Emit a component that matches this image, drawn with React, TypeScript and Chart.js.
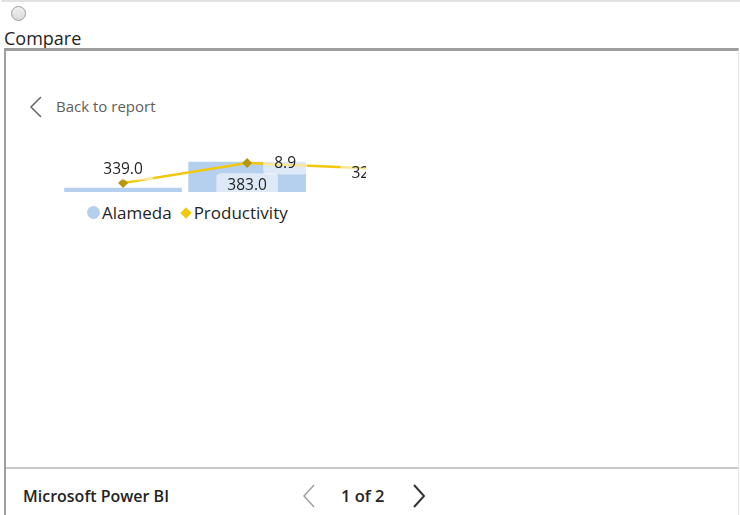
import React, { useEffect, useRef } from "react";
import { Chart, registerables } from "chart.js";

Chart.register(...registerables);

// ---- data ----
const categories = ["Q1", "Q2", "Q3"];
const alamedaValues = [339.0, 383.0, 327.0];
const productivityValues = [2.8, 8.9, 7.2];
const productivityLabelShown = [false, true, false];
const seriesNames = ["Alameda", "Productivity"];
const barAxisRange = [332, 420];
const lineAxisRange = [0, 16];

const BAR_COLOR = "#B5CFEF";
const LINE_COLOR = "#F2C80F";
const MARKER_COLOR = "#B8960C";
const TEXT_COLOR = "#252423";
const FONT = "'Open Sans', 'Noto Sans', sans-serif";

const labelPlugin = {
  id: "pbiLabels",
  afterDatasetsDraw(chart: any) {
    const ctx = chart.ctx;
    const area = chart.chartArea;
    ctx.save();
    ctx.font = "15.5px 'Open Sans'";
    ctx.textAlign = "center";
    ctx.textBaseline = "middle";
    const drawLabel = (text: string, x: number, y: number) => {
      const w = ctx.measureText(text).width + 22;
      const h = 23;
      ctx.fillStyle = "rgba(255,255,255,0.55)";
      ctx.beginPath();
      if (ctx.roundRect) ctx.roundRect(x - w / 2, y - h / 2, w, h, 4);
      else ctx.rect(x - w / 2, y - h / 2, w, h);
      ctx.fill();
      ctx.fillStyle = TEXT_COLOR;
      ctx.fillText(text, x, y + 1);
    };
    const barMeta = chart.getDatasetMeta(1);
    barMeta.data.forEach((bar: any, i: number) => {
      const top = Math.min(bar.y, area.bottom);
      const height = area.bottom - top;
      const y = height > 20 ? top + 23 : top - 19;
      drawLabel(alamedaValues[i].toFixed(1), bar.x, y);
    });
    const lineMeta = chart.getDatasetMeta(0);
    lineMeta.data.forEach((pt: any, i: number) => {
      if (!productivityLabelShown[i]) return;
      drawLabel(productivityValues[i].toFixed(1), pt.x + 38, pt.y);
    });
    ctx.restore();
  },
};

function ComboChart() {
  const ref = useRef<HTMLCanvasElement | null>(null);
  useEffect(() => {
    if (!ref.current) return;
    const chart = new Chart(ref.current, {
      type: "bar",
      data: {
        labels: categories,
        datasets: [
          {
            type: "line",
            label: seriesNames[1],
            data: productivityValues,
            yAxisID: "y1",
            order: 0,
            borderColor: LINE_COLOR,
            borderWidth: 2.5,
            tension: 0,
            pointStyle: "rectRot",
            pointRadius: 5,
            pointBackgroundColor: MARKER_COLOR,
            pointBorderWidth: 0,
          } as any,
          {
            type: "bar",
            label: seriesNames[0],
            data: alamedaValues,
            yAxisID: "y",
            order: 1,
            backgroundColor: BAR_COLOR,
            barPercentage: 0.948,
            categoryPercentage: 1,
          },
        ],
      },
      options: {
        responsive: false,
        animation: false,
        devicePixelRatio: 1,
        layout: { padding: { left: 3.75, right: 42.75, top: 5, bottom: 13 } },
        scales: {
          x: { display: false, offset: true },
          y: { display: false, min: barAxisRange[0], max: barAxisRange[1] },
          y1: { display: false, min: lineAxisRange[0], max: lineAxisRange[1] },
        },
        plugins: { legend: { display: false }, tooltip: { enabled: false } },
      },
      plugins: [labelPlugin],
    });
    return () => chart.destroy();
  }, []);
  return <canvas ref={ref} width={420} height={70} style={{ position: "absolute", left: 0, top: 0 }} />;
}

const abs = (s: React.CSSProperties): React.CSSProperties => ({ position: "absolute", ...s });

export default function App() {
  return (
    <div
      style={abs({
        left: 0,
        top: 0,
        width: 740,
        height: 515,
        overflow: "hidden",
        background: "#fff",
        fontFamily: FONT,
        color: TEXT_COLOR,
      })}
    >
      <div style={abs({ left: 2, top: 0, width: 738, height: 2, borderBottom: "2px solid #e2e2e2", borderLeft: "1px solid #c8c8c8", boxSizing: "border-box" })} />
      <input
        type="radio"
        readOnly
        style={abs({
          left: 11,
          top: 6,
          margin: 0,
          width: 15,
          height: 15,
          appearance: "none",
          WebkitAppearance: "none",
          borderRadius: "50%",
          border: "1px solid #9c9c9c",
          background: "linear-gradient(#f2f2f2, #d9d9d9)",
          boxSizing: "border-box",
        })}
      />
      <div style={abs({ left: 4, top: 29, fontSize: 18, lineHeight: 1, whiteSpace: "nowrap" })}>Compare</div>

      <div
        style={abs({
          left: 4,
          top: 48,
          width: 735,
          height: 470,
          borderTop: "3px solid #9e9e9e",
          borderLeft: "2px solid #9e9e9e",
          borderRight: "1px solid #e3e3e3",
          boxSizing: "border-box",
        })}
      />
      <div style={abs({ left: 6, top: 467, width: 732, height: 2, background: "#c8c8c8" })} />

      <svg style={abs({ left: 28, top: 95 })} width={16} height={24}>
        <polyline points="13,2 3,12 13,22" fill="none" stroke="#666" strokeWidth={1.5} />
      </svg>
      <div style={abs({ left: 56, top: 99, fontSize: 15, lineHeight: 1, color: "#605E5C", whiteSpace: "nowrap" })}>Back to report</div>

      <div style={abs({ left: 56, top: 135, width: 310, height: 57, overflow: "hidden" })}>
        <ComboChart />
      </div>

      <div style={abs({ left: 87, top: 204, height: 17, display: "flex", alignItems: "center", fontSize: 17, lineHeight: 1, whiteSpace: "nowrap" })}>
        <span style={{ width: 13, height: 13, borderRadius: "50%", background: BAR_COLOR, marginRight: 2, display: "inline-block" }} />
        <span>{seriesNames[0]}</span>
        <span style={{ width: 8, height: 8, background: LINE_COLOR, transform: "rotate(45deg)", margin: "0 3.5px 0 10.5px", display: "inline-block" }} />
        <span>{seriesNames[1]}</span>
      </div>

      <div style={abs({ left: 23, top: 488, fontSize: 16, fontWeight: 600, lineHeight: 1, whiteSpace: "nowrap" })}>Microsoft Power BI</div>
      <svg style={abs({ left: 300, top: 483 })} width={18} height={26}>
        <polyline points="14,2 4,13 14,24" fill="none" stroke="#a0a0a0" strokeWidth={1.5} />
      </svg>
      <div style={abs({ left: 341, top: 488, fontSize: 16.5, fontWeight: 600, lineHeight: 1, whiteSpace: "nowrap" })}>1 of 2</div>
      <svg style={abs({ left: 410, top: 483 })} width={18} height={26}>
        <polyline points="4,2 14,13 4,24" fill="none" stroke="#333" strokeWidth={2} />
      </svg>
    </div>
  );
}
